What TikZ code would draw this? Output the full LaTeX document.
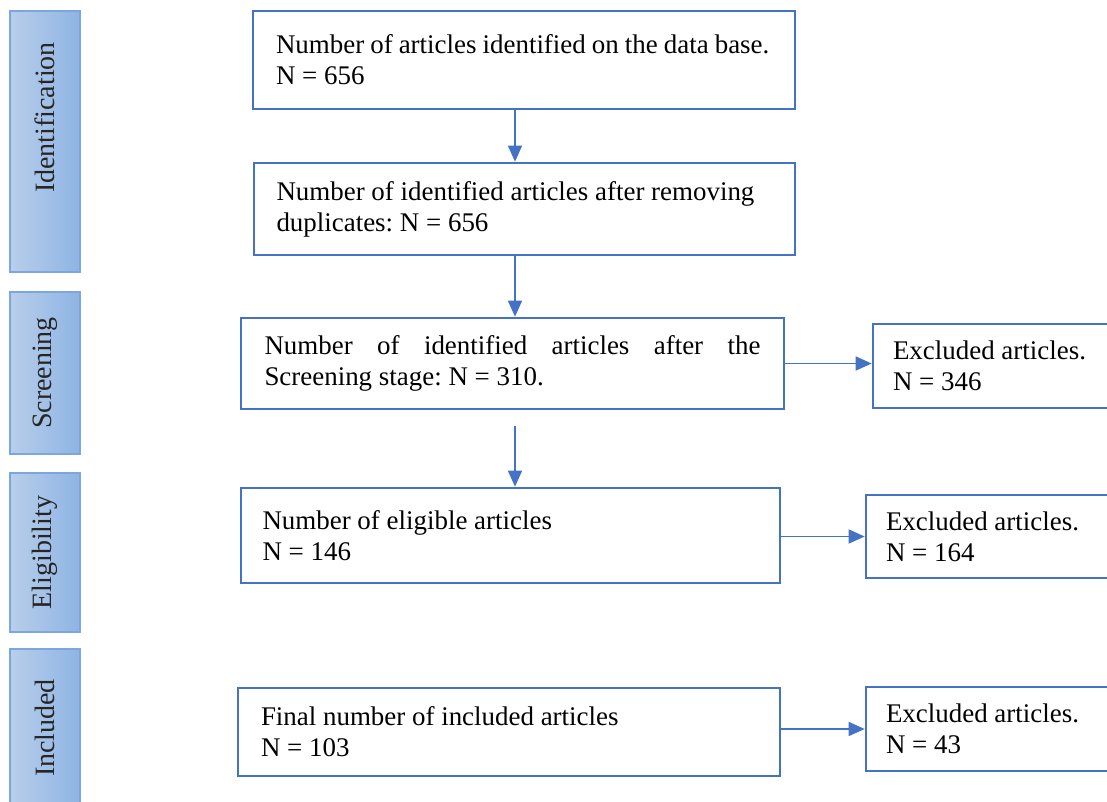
\documentclass[tikz,border=0pt]{standalone}
\usepackage{fontspec}
\setmainfont{Liberation Serif}
\frenchspacing
\usetikzlibrary{arrows.meta}
\definecolor{boxblue}{HTML}{4472C4}
\definecolor{phaselight}{HTML}{B8CEEB}
\definecolor{phasedark}{HTML}{8EB4E3}
\definecolor{phaseline}{HTML}{7DA6DE}
\tikzset{stepbox/.style={draw=boxblue,line width=2pt,align=flush left,text width=372pt,inner xsep=0pt,font=\fontsize{20.2}{23.25}\selectfont}}
\tikzset{exclbox/.style={draw=boxblue,line width=2pt,align=flush left,text width=165pt,minimum width=195pt,inner xsep=0pt,font=\fontsize{20.2}{23.25}\selectfont}}
\tikzset{phase/.style={draw=phaseline,line width=1pt,left color=phaselight,right color=phasedark,rotate=90,minimum height=52.5pt,inner sep=0pt,font=\fontsize{21}{25}\selectfont,text=black!85}}
\tikzset{arr/.style={draw=boxblue,line width=1.2pt,-{Triangle[length=12pt,width=10.5pt]}}}

\begin{document}
\begin{tikzpicture}[x=0.75pt,y=-0.75pt]
      \useasboundingbox (0,0) rectangle (1107,802);
      \clip (0,0) rectangle (1107,802);
      \node[phase,minimum width=195.75pt] (pident) at (45,141.5) {\hspace*{36pt}Identification};
      \node[phase,minimum width=121.5pt] (pscreen) at (45,373) {Screening};
      \node[phase,minimum width=119.25pt] (pelig) at (45,552.5) {Eligibility};
      \node[phase,minimum width=118.5pt] (pincl) at (45,728) {Included};
      \node[stepbox,minimum width=406.5pt,minimum height=73.5pt] (ident) at (524,60) {\makebox[370pt][s]{Number of articles identified on the data base.}\\N = 656};
      \node[stepbox,minimum width=405.75pt,minimum height=69pt] (dup) at (524.5,209) {\mbox{Number of identified articles after removing}\\duplicates: N = 656};
      \node[stepbox,align=justify,minimum width=407.25pt,minimum height=68.25pt] (scr) at (512.5,363.5) {Number of identified articles after the\linebreak Screening stage: N = 310.};
      \node[stepbox,minimum width=404.25pt,minimum height=71.25pt] (elig) at (510.5,535.5) {Number of eligible articles\\N = 146};
      \node[stepbox,minimum width=406.5pt,minimum height=66pt] (incl) at (509,732) {Final number of included articles\\N = 103};
      \node[exclbox,minimum height=63pt] (exa) at (1003,366) {Excluded articles.\\N = 346};
      \node[exclbox,minimum height=62.25pt] (exb) at (996,536.5) {Excluded articles.\\N = 164};
      \node[exclbox,minimum height=63pt] (exc) at (996,729) {Excluded articles.\\N = 43};
      \coordinate (axis) at (515,0);
      \draw[arr] (ident.south -| axis) -- (dup.north -| axis);
      \draw[arr] (dup.south -| axis) -- (scr.north -| axis);
      \draw[arr,shorten <=12pt] (scr.south -| axis) -- (elig.north -| axis);
      \draw[arr] (scr.east) -- (scr.east -| exa.west);
      \draw[arr] (exb.west -| elig.east) -- (exb.west);
      \draw[arr] (exc.west -| incl.east) -- (exc.west);
\end{tikzpicture}
\end{document}
